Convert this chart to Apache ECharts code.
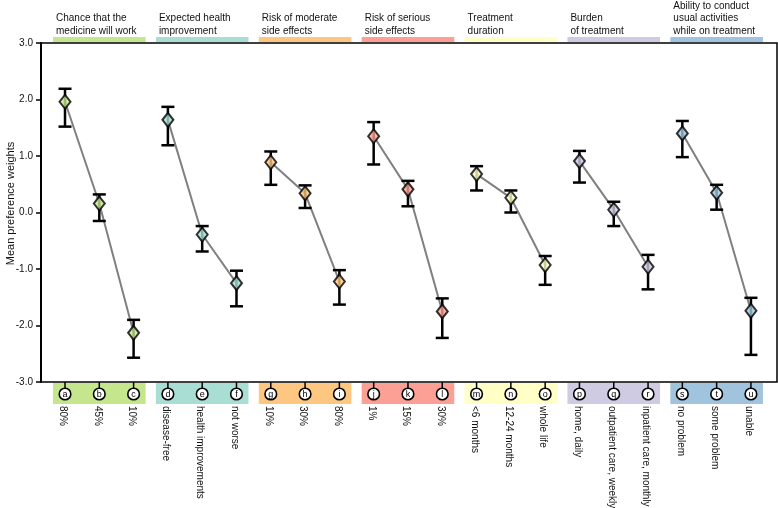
<!DOCTYPE html>
<html><head><meta charset="utf-8">
<script src="https://cdn.jsdelivr.net/npm/echarts@6/dist/echarts.min.js"></script>
<style>html,body{margin:0;padding:0;background:#fff}#c{width:778px;height:508px}</style>
</head><body><div id="c"></div>
<script>
const letters = ['a','b','c','d','e','f','g','h','i','j','k','l','m','n','o','p','q','r','s','t','u'];
const levelLabels = ['80%','45%','10%','disease-free','health improvements','not worse','10%','30%','80%','1%','15%','30%','<6 months','12-24 months','whole life','home, daily','outpatient care, weekly','inpatient care, monthly','no problem','some problem','unable'];
const means = [1.96,0.16,-2.13,1.64,-0.39,-1.25,0.89,0.34,-1.22,1.35,0.41,-1.75,0.68,0.26,-0.93,0.91,0.05,-0.96,1.40,0.35,-1.74];
const upper = [2.19,0.32,-1.90,1.87,-0.24,-1.03,1.08,0.48,-1.02,1.60,0.56,-1.52,0.82,0.39,-0.77,1.09,0.19,-0.75,1.62,0.49,-1.51];
const lower = [1.52,-0.15,-2.57,1.19,-0.69,-1.66,0.49,0.08,-1.63,0.85,0.11,-2.22,0.39,0.00,-1.28,0.53,-0.24,-1.36,0.98,0.05,-2.52];
const groupTitles = ['Chance that the\nmedicine will work','Expected health\nimprovement','Risk of moderate\nside effects','Risk of serious\nside effects','Treatment\nduration','Burden\nof treatment','Ability to conduct\nusual activities\nwhile on treatment'];
const groupColors = ['#c6e68e','#a9ded5','#fdc781','#fc9f95','#ffffc6','#cecbe3','#a0c4dd'];
const groupSize = 3;

const FONT = '"Liberation Sans", Arial, sans-serif';
const chart = echarts.init(document.getElementById('c'), null, {renderer:'canvas'});

const series = [];
series.push({
  type:'custom', silent:true, z:1,
  data: groupTitles.map((t,g)=>[g*groupSize, g*groupSize+groupSize-1, g]),
  renderItem:(params, api)=>{
    const s = api.value(0), e = api.value(1), g = api.value(2);
    const x0 = api.coord([s,0])[0]-12, x1 = api.coord([e,0])[0]+12;
    const top = api.coord([0,3])[1], bot = api.coord([0,-3])[1];
    return {type:'group', children:[
      {type:'rect', shape:{x:x0,y:top-6,width:x1-x0,height:5}, style:{fill:groupColors[g]}},
      {type:'rect', shape:{x:x0,y:bot+1,width:x1-x0,height:21}, style:{fill:groupColors[g]}},
      {type:'text', x:x0+3, y:top-6, style:{text:groupTitles[g], fill:'#111', font:'10px '+FONT, textAlign:'left', textVerticalAlign:'bottom', lineHeight:12.5}}
    ]};
  }
});
for (let g=0; g<groupTitles.length; g++){
  series.push({
    type:'line', z:2, silent:true, symbol:'none',
    lineStyle:{color:'#808080', width:2},
    data: means.slice(g*groupSize,(g+1)*groupSize).map((v,k)=>[g*groupSize+k, v])
  });
}
series.push({
  type:'custom', z:3, silent:true,
  data: means.map((v,i)=>[i, lower[i], upper[i]]),
  renderItem:(params, api)=>{
    const lo = api.coord([api.value(0), api.value(1)]);
    const hi = api.coord([api.value(0), api.value(2)]);
    const w = 6.5;
    const st = {stroke:'#000', lineWidth:2.5};
    return {type:'group', children:[
      {type:'line', shape:{x1:lo[0],y1:lo[1],x2:hi[0],y2:hi[1]}, style:st},
      {type:'line', shape:{x1:lo[0]-w,y1:lo[1],x2:lo[0]+w,y2:lo[1]}, style:st},
      {type:'line', shape:{x1:hi[0]-w,y1:hi[1],x2:hi[0]+w,y2:hi[1]}, style:st}
    ]};
  }
});
series.push({
  type:'scatter', z:4, silent:true, symbol:'diamond', symbolSize:[11,14],
  data: means.map((v,i)=>({value:[i,v], itemStyle:{color:groupColors[Math.floor(i/groupSize)], borderColor:'#000', borderWidth:2}}))
});
series.push({
  type:'custom', z:5, silent:true,
  data: letters.map((l,i)=>[i]),
  renderItem:(params, api)=>{
    const i = api.value(0);
    const x = api.coord([i,0])[0];
    const bot = api.coord([0,-3])[1];
    return {type:'group', children:[
      {type:'line', shape:{x1:x,y1:bot,x2:x,y2:bot+6}, style:{stroke:'#000', lineWidth:1.5}},
      {type:'circle', shape:{cx:x,cy:bot+12,r:5.8}, style:{fill:'#fff', stroke:'#000', lineWidth:1.6}},
      {type:'text', x:x, y:bot+12.5, style:{text:letters[i], fill:'#000', font:'9px '+FONT, textAlign:'center', textVerticalAlign:'middle'}},
      {type:'text', x:x-2, y:bot+24, rotation:-Math.PI/2, style:{text:levelLabels[i], fill:'#111', font:'10px '+FONT, textAlign:'left', textVerticalAlign:'middle'}}
    ]};
  }
});

chart.setOption({
  animation:false,
  backgroundColor:'#fff',
  textStyle:{fontFamily:FONT},
  grid:{left:41, right:1, top:43, bottom:126, containLabel:false, outerBoundsMode:'none', show:true, borderColor:'#000', borderWidth:1.5, backgroundColor:'transparent'},
  xAxis:{type:'value', min:-0.7, max:20.76, show:false},
  yAxis:{type:'value', min:-3, max:3, interval:1,
    name:'Mean preference weights', nameLocation:'middle', nameGap:25, nameMoveOverlap:false,
    nameTextStyle:{fontSize:11, color:'#111', fontFamily:FONT, padding:[0,0,0,18]},
    axisLine:{show:true, onZero:false, lineStyle:{color:'#000', width:2}},
    axisTick:{show:true, length:5, lineStyle:{color:'#000', width:1.5}},
    splitLine:{show:false},
    axisLabel:{fontSize:10, color:'#111', margin:8, fontFamily:FONT,
      formatter:v=> (v<0?'-':'') + Math.abs(v).toFixed(1)}
  },
  series
});
</script></body></html>
